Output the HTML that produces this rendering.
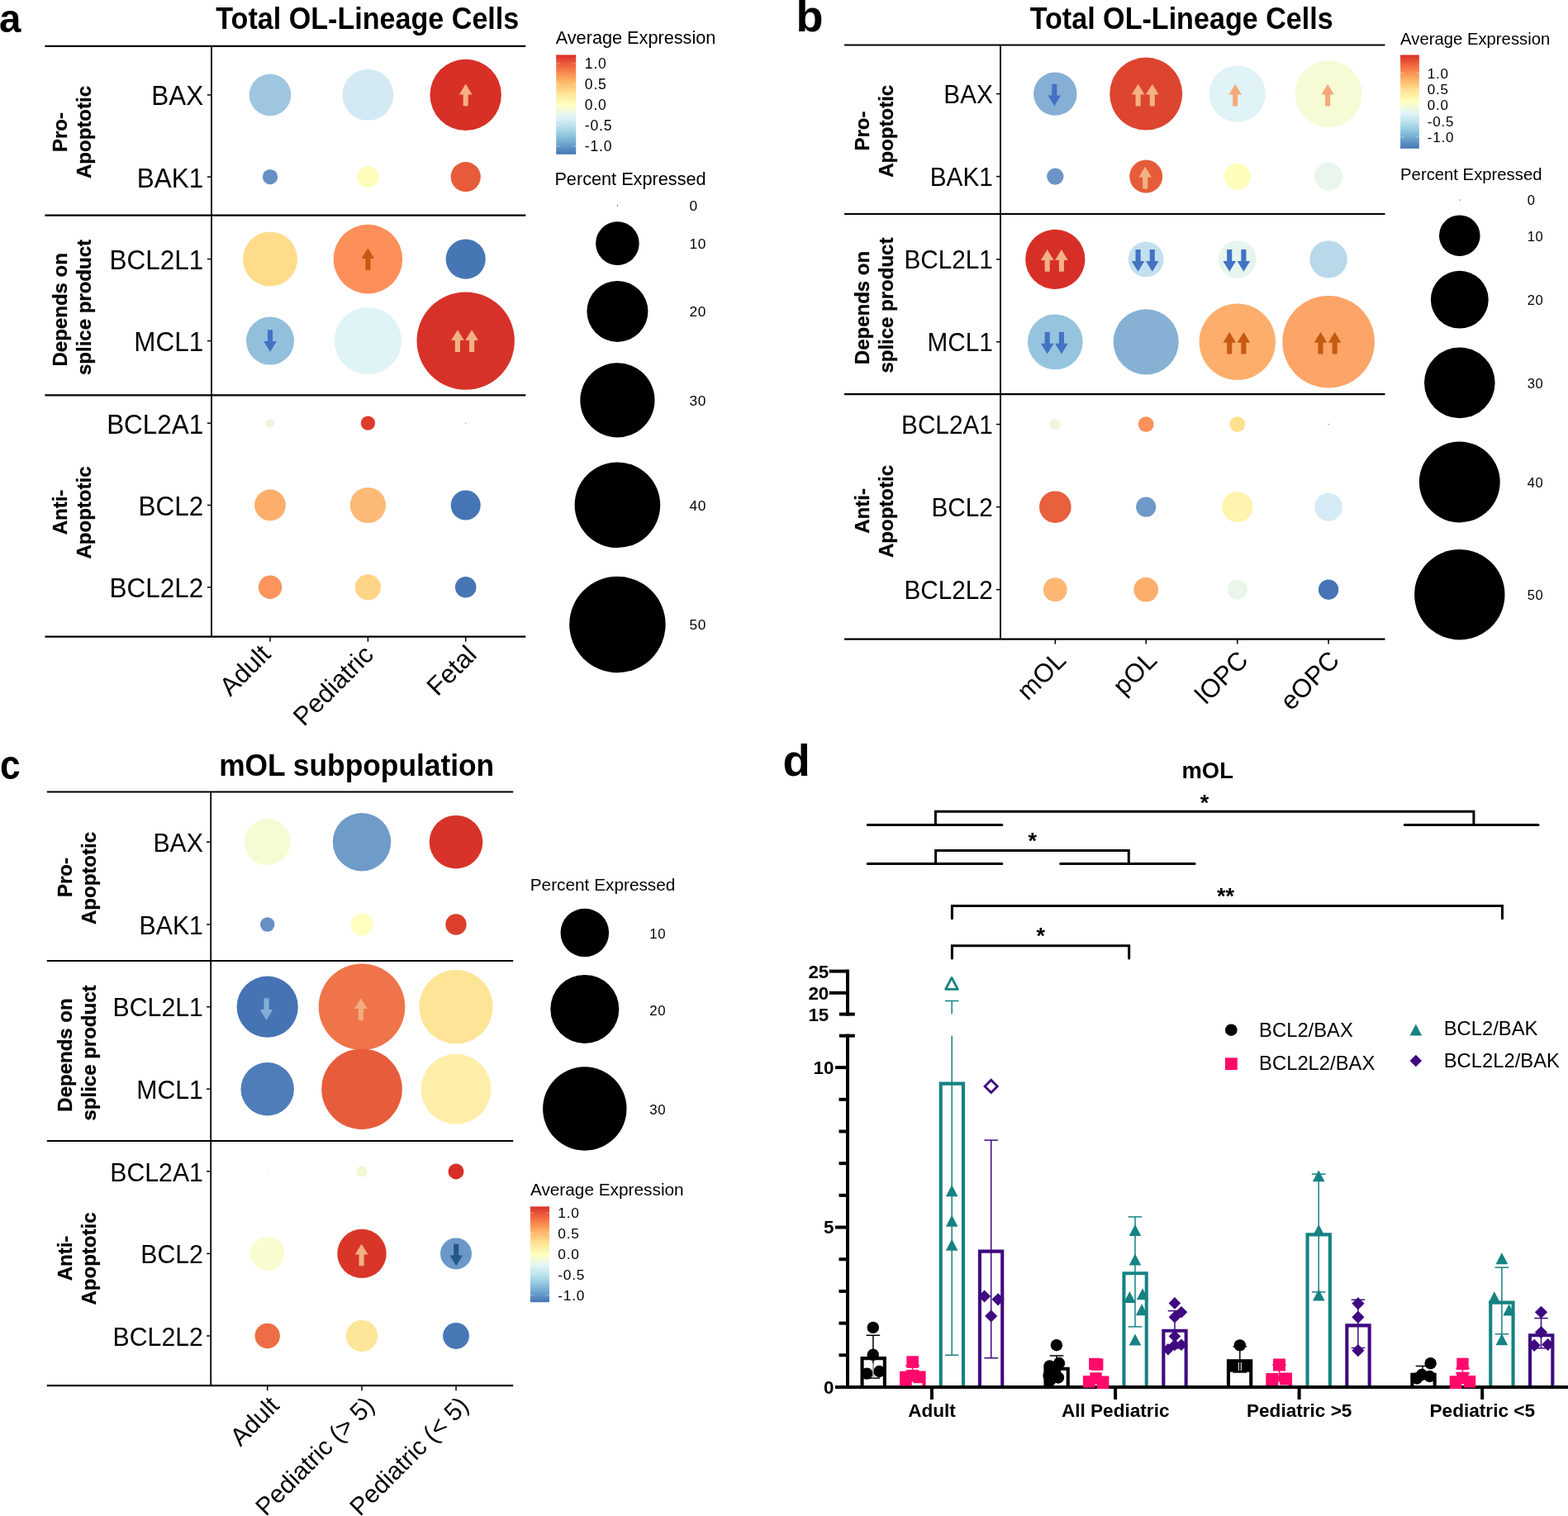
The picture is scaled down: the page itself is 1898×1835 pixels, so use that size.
<!DOCTYPE html>
<html lang="en">
<head>
<meta charset="utf-8">
<title>Figure: BCL2 family expression in OL-lineage cells</title>
<style>
html,body{margin:0;padding:0;background:#fff;}
body{width:1898px;height:1835px;overflow:hidden;}
svg{display:block;}
text{white-space:pre;}
</style>
</head>
<body>
<svg xmlns="http://www.w3.org/2000/svg" width="1898" height="1835" viewBox="0 0 1898 1835" font-family='"Liberation Sans", Arial, Helvetica, sans-serif'>
<rect width="1898" height="1835" fill="#fff"/>
<g id="panel-a">
<text x="-1" y="39" font-size="47.5" font-weight="bold" text-anchor="start" fill="#000">a</text>
<text x="261.3" y="34.7" font-size="36" font-weight="bold" text-anchor="start" fill="#000" textLength="367" lengthAdjust="spacingAndGlyphs">Total OL-Lineage Cells</text>
<line x1="54.4" y1="55.85" x2="636.3" y2="55.85" stroke="#000" stroke-width="2.2" stroke-linecap="butt"/>
<line x1="54.4" y1="260.6" x2="636.3" y2="260.6" stroke="#000" stroke-width="2.2" stroke-linecap="butt"/>
<line x1="54.4" y1="478.4" x2="636.3" y2="478.4" stroke="#000" stroke-width="2.2" stroke-linecap="butt"/>
<line x1="54.4" y1="770.7" x2="636.3" y2="770.7" stroke="#000" stroke-width="2.2" stroke-linecap="butt"/>
<line x1="256" y1="55.85" x2="256" y2="770.7" stroke="#000" stroke-width="1.8" stroke-linecap="butt"/>
<line x1="250.9" y1="114.9" x2="256" y2="114.9" stroke="#000" stroke-width="1.5" stroke-linecap="butt"/>
<text transform="translate(246.2 127.41) scale(0.95 1)" font-size="33.1" text-anchor="end">BAX</text>
<line x1="250.9" y1="214.1" x2="256" y2="214.1" stroke="#000" stroke-width="1.5" stroke-linecap="butt"/>
<text transform="translate(246.2 226.61) scale(0.95 1)" font-size="33.1" text-anchor="end">BAK1</text>
<line x1="250.9" y1="313.6" x2="256" y2="313.6" stroke="#000" stroke-width="1.5" stroke-linecap="butt"/>
<text transform="translate(246.2 326.11) scale(0.95 1)" font-size="33.1" text-anchor="end">BCL2L1</text>
<line x1="250.9" y1="412.6" x2="256" y2="412.6" stroke="#000" stroke-width="1.5" stroke-linecap="butt"/>
<text transform="translate(246.2 425.11) scale(0.95 1)" font-size="33.1" text-anchor="end">MCL1</text>
<line x1="250.9" y1="512.2" x2="256" y2="512.2" stroke="#000" stroke-width="1.5" stroke-linecap="butt"/>
<text transform="translate(246.2 524.71) scale(0.95 1)" font-size="33.1" text-anchor="end">BCL2A1</text>
<line x1="250.9" y1="611.5" x2="256" y2="611.5" stroke="#000" stroke-width="1.5" stroke-linecap="butt"/>
<text transform="translate(246.2 624.01) scale(0.95 1)" font-size="33.1" text-anchor="end">BCL2</text>
<line x1="250.9" y1="710.8" x2="256" y2="710.8" stroke="#000" stroke-width="1.5" stroke-linecap="butt"/>
<text transform="translate(246.2 723.31) scale(0.95 1)" font-size="33.1" text-anchor="end">BCL2L2</text>
<line x1="327" y1="770.7" x2="327" y2="776.7" stroke="#000" stroke-width="1.5" stroke-linecap="butt"/>
<line x1="445.4" y1="770.7" x2="445.4" y2="776.7" stroke="#000" stroke-width="1.5" stroke-linecap="butt"/>
<line x1="563.7" y1="770.7" x2="563.7" y2="776.7" stroke="#000" stroke-width="1.5" stroke-linecap="butt"/>
<text transform="translate(313.3 777.7) rotate(-45)" font-size="31.3" font-weight="normal" text-anchor="end" dy="22.54">Adult</text>
<text transform="translate(437.8 778.2) rotate(-45)" font-size="31.3" font-weight="normal" text-anchor="end" dy="22.54">Pediatric</text>
<text transform="translate(562.7 778.5) rotate(-45)" font-size="31.3" font-weight="normal" text-anchor="end" dy="22.54">Fetal</text>
<text transform="translate(80.9 160) rotate(-90)" font-size="24" font-weight="bold" text-anchor="middle" stroke="#000" stroke-width="0.3">Pro-</text>
<text transform="translate(109.8 160) rotate(-90)" font-size="24" font-weight="bold" text-anchor="middle" stroke="#000" stroke-width="0.3">Apoptotic</text>
<text transform="translate(81 374.8) rotate(-90)" font-size="24" font-weight="bold" text-anchor="middle" stroke="#000" stroke-width="0.3">Depends on</text>
<text transform="translate(109.8 372) rotate(-90)" font-size="24" font-weight="bold" text-anchor="middle" stroke="#000" stroke-width="0.3">splice product</text>
<text transform="translate(81.3 620) rotate(-90)" font-size="24" font-weight="bold" text-anchor="middle" stroke="#000" stroke-width="0.3">Anti-</text>
<text transform="translate(109.8 620.5) rotate(-90)" font-size="24" font-weight="bold" text-anchor="middle" stroke="#000" stroke-width="0.3">Apoptotic</text>
<circle cx="327" cy="114.9" r="25.3" fill="#9fc6e0"/>
<circle cx="445.4" cy="114.9" r="30.9" fill="#d3e9f3"/>
<circle cx="563.7" cy="114.9" r="43.2" fill="#d73027"/>
<circle cx="327" cy="214.1" r="9.2" fill="#6690c4"/>
<circle cx="445.4" cy="214.1" r="13.1" fill="#fffdbb"/>
<circle cx="563.7" cy="214.1" r="18.1" fill="#e65c3a"/>
<circle cx="327" cy="313.6" r="33" fill="#fedc8c"/>
<circle cx="445.4" cy="313.6" r="41.8" fill="#fd8f5b"/>
<circle cx="563.7" cy="313.6" r="24.1" fill="#4776b4"/>
<circle cx="327" cy="412.6" r="29" fill="#92bfdc"/>
<circle cx="445.4" cy="412.6" r="40.6" fill="#e0f3f6"/>
<circle cx="563.7" cy="412.6" r="59.2" fill="#d73229"/>
<circle cx="327" cy="512.2" r="5" fill="#e9f5dc"/>
<circle cx="445.4" cy="512.2" r="8.6" fill="#dc3c2c"/>
<circle cx="563.7" cy="512.2" r="0.7" fill="#74add1"/>
<circle cx="327" cy="611.5" r="18.9" fill="#fdae6b"/>
<circle cx="445.4" cy="611.5" r="21.6" fill="#fdb976"/>
<circle cx="563.7" cy="611.5" r="18" fill="#4575b4"/>
<circle cx="327" cy="710.8" r="14.2" fill="#fd945c"/>
<circle cx="445.4" cy="710.8" r="15.6" fill="#fed586"/>
<circle cx="563.7" cy="710.8" r="12.8" fill="#4776b4"/>
<path d="M563.7 101.6 L571.5 114.4 L566.75 114.4 L566.75 128.2 L560.65 128.2 L560.65 114.4 L555.9 114.4Z" fill="#f4b183"/>
<path d="M445.4 300.3 L453.2 313.1 L448.45 313.1 L448.45 326.9 L442.35 326.9 L442.35 313.1 L437.6 313.1Z" fill="#c55a11"/>
<path d="M327 425.9 L334.8 413.1 L330.05 413.1 L330.05 399.3 L323.95 399.3 L323.95 413.1 L319.2 413.1Z" fill="#4472c4"/>
<path d="M553.9 399.3 L561.7 412.1 L556.95 412.1 L556.95 425.9 L550.85 425.9 L550.85 412.1 L546.1 412.1Z" fill="#f4b183"/>
<path d="M571.1 399.3 L578.9 412.1 L574.15 412.1 L574.15 425.9 L568.05 425.9 L568.05 412.1 L563.3 412.1Z" fill="#f4b183"/>
<text x="672.7" y="53.4" font-size="21.7" font-weight="normal" text-anchor="start" fill="#000">Average Expression</text>
<defs><linearGradient id="ga" x1="0" y1="0" x2="0" y2="1"><stop offset="0" stop-color="#d73027"/><stop offset="0.125" stop-color="#f46d43"/><stop offset="0.25" stop-color="#fdae61"/><stop offset="0.375" stop-color="#fee090"/><stop offset="0.5" stop-color="#ffffbf"/><stop offset="0.625" stop-color="#e0f3f8"/><stop offset="0.75" stop-color="#abd9e9"/><stop offset="0.875" stop-color="#74add1"/><stop offset="1" stop-color="#4575b4"/></linearGradient></defs>
<rect x="673.2" y="66.4" width="24" height="120.4" fill="url(#ga)"/>
<path d="M673.2 77h4.8M692.4 77h4.8" stroke="#fff" stroke-opacity="0.55" stroke-width="0.7"/>
<path d="M673.2 102h4.8M692.4 102h4.8" stroke="#fff" stroke-opacity="0.55" stroke-width="0.7"/>
<path d="M673.2 126.9h4.8M692.4 126.9h4.8" stroke="#fff" stroke-opacity="0.55" stroke-width="0.7"/>
<path d="M673.2 151.7h4.8M692.4 151.7h4.8" stroke="#fff" stroke-opacity="0.55" stroke-width="0.7"/>
<path d="M673.2 176.8h4.8M692.4 176.8h4.8" stroke="#fff" stroke-opacity="0.55" stroke-width="0.7"/>
<text x="707.8" y="83.3" font-size="17.5" font-weight="normal" text-anchor="start" fill="#000" letter-spacing="0.85">1.0</text>
<text x="707.8" y="108.3" font-size="17.5" font-weight="normal" text-anchor="start" fill="#000" letter-spacing="0.85">0.5</text>
<text x="707.8" y="133.2" font-size="17.5" font-weight="normal" text-anchor="start" fill="#000" letter-spacing="0.85">0.0</text>
<text x="707.8" y="158" font-size="17.5" font-weight="normal" text-anchor="start" fill="#000" letter-spacing="0.85">-0.5</text>
<text x="707.8" y="183.1" font-size="17.5" font-weight="normal" text-anchor="start" fill="#000" letter-spacing="0.85">-1.0</text>
<text x="671.4" y="223.7" font-size="21.7" font-weight="normal" text-anchor="start" fill="#000">Percent Expressed</text>
<circle cx="747.4" cy="248.7" r="0.6" fill="#000"/>
<text x="834.6" y="255.1" font-size="17.3" font-weight="normal" text-anchor="start" fill="#000" letter-spacing="0.6">0</text>
<circle cx="747.4" cy="294.6" r="26.3" fill="#000"/>
<text x="834.6" y="301" font-size="17.3" font-weight="normal" text-anchor="start" fill="#000" letter-spacing="0.6">10</text>
<circle cx="747.4" cy="376.9" r="37" fill="#000"/>
<text x="834.6" y="383.3" font-size="17.3" font-weight="normal" text-anchor="start" fill="#000" letter-spacing="0.6">20</text>
<circle cx="747.4" cy="484.4" r="45.1" fill="#000"/>
<text x="834.6" y="490.8" font-size="17.3" font-weight="normal" text-anchor="start" fill="#000" letter-spacing="0.6">30</text>
<circle cx="747.4" cy="611.3" r="51.8" fill="#000"/>
<text x="834.6" y="617.7" font-size="17.3" font-weight="normal" text-anchor="start" fill="#000" letter-spacing="0.6">40</text>
<circle cx="747.4" cy="756" r="58.2" fill="#000"/>
<text x="834.6" y="762.4" font-size="17.3" font-weight="normal" text-anchor="start" fill="#000" letter-spacing="0.6">50</text>
</g>
<g id="panel-b">
<text x="963.5" y="38" font-size="54" font-weight="bold" text-anchor="start" fill="#000">b</text>
<text x="1246.7" y="34.7" font-size="36" font-weight="bold" text-anchor="start" fill="#000" textLength="367" lengthAdjust="spacingAndGlyphs">Total OL-Lineage Cells</text>
<line x1="1022" y1="54.5" x2="1676.5" y2="54.5" stroke="#000" stroke-width="2.2" stroke-linecap="butt"/>
<line x1="1022" y1="259" x2="1676.5" y2="259" stroke="#000" stroke-width="2.2" stroke-linecap="butt"/>
<line x1="1022" y1="477.1" x2="1676.5" y2="477.1" stroke="#000" stroke-width="2.2" stroke-linecap="butt"/>
<line x1="1022" y1="773.6" x2="1676.5" y2="773.6" stroke="#000" stroke-width="2.2" stroke-linecap="butt"/>
<line x1="1211" y1="54.5" x2="1211" y2="773.6" stroke="#000" stroke-width="1.8" stroke-linecap="butt"/>
<line x1="1205.9" y1="113.6" x2="1211" y2="113.6" stroke="#000" stroke-width="1.5" stroke-linecap="butt"/>
<text transform="translate(1201.8 124.68) scale(0.95 1)" font-size="31.3" text-anchor="end">BAX</text>
<line x1="1205.9" y1="213.6" x2="1211" y2="213.6" stroke="#000" stroke-width="1.5" stroke-linecap="butt"/>
<text transform="translate(1201.8 224.68) scale(0.95 1)" font-size="31.3" text-anchor="end">BAK1</text>
<line x1="1205.9" y1="313.9" x2="1211" y2="313.9" stroke="#000" stroke-width="1.5" stroke-linecap="butt"/>
<text transform="translate(1201.8 324.98) scale(0.95 1)" font-size="31.3" text-anchor="end">BCL2L1</text>
<line x1="1205.9" y1="413.8" x2="1211" y2="413.8" stroke="#000" stroke-width="1.5" stroke-linecap="butt"/>
<text transform="translate(1201.8 424.88) scale(0.95 1)" font-size="31.3" text-anchor="end">MCL1</text>
<line x1="1205.9" y1="513.6" x2="1211" y2="513.6" stroke="#000" stroke-width="1.5" stroke-linecap="butt"/>
<text transform="translate(1201.8 524.68) scale(0.95 1)" font-size="31.3" text-anchor="end">BCL2A1</text>
<line x1="1205.9" y1="613.7" x2="1211" y2="613.7" stroke="#000" stroke-width="1.5" stroke-linecap="butt"/>
<text transform="translate(1201.8 624.78) scale(0.95 1)" font-size="31.3" text-anchor="end">BCL2</text>
<line x1="1205.9" y1="713.7" x2="1211" y2="713.7" stroke="#000" stroke-width="1.5" stroke-linecap="butt"/>
<text transform="translate(1201.8 724.78) scale(0.95 1)" font-size="31.3" text-anchor="end">BCL2L2</text>
<line x1="1277.3" y1="773.6" x2="1277.3" y2="779.6" stroke="#000" stroke-width="1.5" stroke-linecap="butt"/>
<line x1="1387.2" y1="773.6" x2="1387.2" y2="779.6" stroke="#000" stroke-width="1.5" stroke-linecap="butt"/>
<line x1="1497.8" y1="773.6" x2="1497.8" y2="779.6" stroke="#000" stroke-width="1.5" stroke-linecap="butt"/>
<line x1="1608.1" y1="773.6" x2="1608.1" y2="779.6" stroke="#000" stroke-width="1.5" stroke-linecap="butt"/>
<text transform="translate(1276 785) rotate(-45)" font-size="31.3" font-weight="normal" text-anchor="end" dy="22.54">mOL</text>
<text transform="translate(1386 785) rotate(-45)" font-size="31.3" font-weight="normal" text-anchor="end" dy="22.54">pOL</text>
<text transform="translate(1496.5 785) rotate(-45)" font-size="31.3" font-weight="normal" text-anchor="end" dy="22.54">lOPC</text>
<text transform="translate(1607 785) rotate(-45)" font-size="31.3" font-weight="normal" text-anchor="end" dy="22.54">eOPC</text>
<text transform="translate(1051.5 158.5) rotate(-90)" font-size="24" font-weight="bold" text-anchor="middle" stroke="#000" stroke-width="0.3">Pro-</text>
<text transform="translate(1080.9 158.8) rotate(-90)" font-size="24" font-weight="bold" text-anchor="middle" stroke="#000" stroke-width="0.3">Apoptotic</text>
<text transform="translate(1051.8 372.5) rotate(-90)" font-size="24" font-weight="bold" text-anchor="middle" stroke="#000" stroke-width="0.3">Depends on</text>
<text transform="translate(1081.3 369.6) rotate(-90)" font-size="24" font-weight="bold" text-anchor="middle" stroke="#000" stroke-width="0.3">splice product</text>
<text transform="translate(1052.2 618.4) rotate(-90)" font-size="24" font-weight="bold" text-anchor="middle" stroke="#000" stroke-width="0.3">Anti-</text>
<text transform="translate(1080.6 619) rotate(-90)" font-size="24" font-weight="bold" text-anchor="middle" stroke="#000" stroke-width="0.3">Apoptotic</text>
<circle cx="1277.3" cy="113.6" r="26.2" fill="#85afd4"/>
<circle cx="1387.2" cy="113.6" r="44" fill="#dd4530"/>
<circle cx="1497.8" cy="113.6" r="34.1" fill="#e0f3f6"/>
<circle cx="1608.1" cy="113.6" r="40.5" fill="#f6fbd6"/>
<circle cx="1277.3" cy="213.6" r="10.2" fill="#6b93c5"/>
<circle cx="1387.2" cy="213.6" r="20" fill="#e65c3a"/>
<circle cx="1497.8" cy="213.6" r="16" fill="#fffdbb"/>
<circle cx="1608.1" cy="213.6" r="16.9" fill="#eaf6ec"/>
<circle cx="1277.3" cy="313.9" r="36.1" fill="#d62f27"/>
<circle cx="1387.2" cy="313.9" r="21.4" fill="#c2e0ee"/>
<circle cx="1497.8" cy="313.9" r="22.8" fill="#e6f5ee"/>
<circle cx="1608.1" cy="313.9" r="22.7" fill="#b9d8ea"/>
<circle cx="1277.3" cy="413.8" r="33.4" fill="#96c3de"/>
<circle cx="1387.2" cy="413.8" r="39.6" fill="#86b1d5"/>
<circle cx="1497.8" cy="413.8" r="46.2" fill="#fdae6d"/>
<circle cx="1608.1" cy="413.8" r="55.8" fill="#fda468"/>
<circle cx="1277.3" cy="513.6" r="6.5" fill="#eef7dc"/>
<circle cx="1387.2" cy="513.6" r="9.4" fill="#fc9159"/>
<circle cx="1497.8" cy="513.6" r="9.4" fill="#fee08d"/>
<circle cx="1608.1" cy="513.6" r="0.7" fill="#4575b4"/>
<circle cx="1277.3" cy="613.7" r="19.3" fill="#e8603c"/>
<circle cx="1387.2" cy="613.7" r="12.1" fill="#6e99c8"/>
<circle cx="1497.8" cy="613.7" r="18.5" fill="#fff3ad"/>
<circle cx="1608.1" cy="613.7" r="17" fill="#d6ebf5"/>
<circle cx="1277.3" cy="713.7" r="14.4" fill="#fdb772"/>
<circle cx="1387.2" cy="713.7" r="14.8" fill="#fdad6c"/>
<circle cx="1497.8" cy="713.7" r="12.2" fill="#eaf6ea"/>
<circle cx="1608.1" cy="713.7" r="12.2" fill="#4674b4"/>
<path d="M1276.3 128.4 L1284.1 115.6 L1279.35 115.6 L1279.35 101.8 L1273.25 101.8 L1273.25 115.6 L1268.5 115.6Z" fill="#4472c4"/>
<path d="M1377.6 101.8 L1385.4 114.6 L1380.65 114.6 L1380.65 128.4 L1374.55 128.4 L1374.55 114.6 L1369.8 114.6Z" fill="#f4b183"/>
<path d="M1394.8 101.8 L1402.6 114.6 L1397.85 114.6 L1397.85 128.4 L1391.75 128.4 L1391.75 114.6 L1387 114.6Z" fill="#f4b183"/>
<path d="M1495.2 101.8 L1503 114.6 L1498.25 114.6 L1498.25 128.4 L1492.15 128.4 L1492.15 114.6 L1487.4 114.6Z" fill="#f4a97a"/>
<path d="M1607.1 101.8 L1614.9 114.6 L1610.15 114.6 L1610.15 128.4 L1604.05 128.4 L1604.05 114.6 L1599.3 114.6Z" fill="#f4a97a"/>
<path d="M1386.2 201.8 L1394 214.6 L1389.25 214.6 L1389.25 228.4 L1383.15 228.4 L1383.15 214.6 L1378.4 214.6Z" fill="#f4b183"/>
<path d="M1267.7 302.1 L1275.5 314.9 L1270.75 314.9 L1270.75 328.7 L1264.65 328.7 L1264.65 314.9 L1259.9 314.9Z" fill="#f4b183"/>
<path d="M1284.9 302.1 L1292.7 314.9 L1287.95 314.9 L1287.95 328.7 L1281.85 328.7 L1281.85 314.9 L1277.1 314.9Z" fill="#f4b183"/>
<path d="M1377.6 328.7 L1385.4 315.9 L1380.65 315.9 L1380.65 302.1 L1374.55 302.1 L1374.55 315.9 L1369.8 315.9Z" fill="#4472c4"/>
<path d="M1394.8 328.7 L1402.6 315.9 L1397.85 315.9 L1397.85 302.1 L1391.75 302.1 L1391.75 315.9 L1387 315.9Z" fill="#4472c4"/>
<path d="M1488.2 328.7 L1496 315.9 L1491.25 315.9 L1491.25 302.1 L1485.15 302.1 L1485.15 315.9 L1480.4 315.9Z" fill="#4472c4"/>
<path d="M1505.4 328.7 L1513.2 315.9 L1508.45 315.9 L1508.45 302.1 L1502.35 302.1 L1502.35 315.9 L1497.6 315.9Z" fill="#4472c4"/>
<path d="M1267.7 428.6 L1275.5 415.8 L1270.75 415.8 L1270.75 402 L1264.65 402 L1264.65 415.8 L1259.9 415.8Z" fill="#4472c4"/>
<path d="M1284.9 428.6 L1292.7 415.8 L1287.95 415.8 L1287.95 402 L1281.85 402 L1281.85 415.8 L1277.1 415.8Z" fill="#4472c4"/>
<path d="M1488.2 402 L1496 414.8 L1491.25 414.8 L1491.25 428.6 L1485.15 428.6 L1485.15 414.8 L1480.4 414.8Z" fill="#c55a11"/>
<path d="M1505.4 402 L1513.2 414.8 L1508.45 414.8 L1508.45 428.6 L1502.35 428.6 L1502.35 414.8 L1497.6 414.8Z" fill="#c55a11"/>
<path d="M1598.5 402 L1606.3 414.8 L1601.55 414.8 L1601.55 428.6 L1595.45 428.6 L1595.45 414.8 L1590.7 414.8Z" fill="#c55a11"/>
<path d="M1615.7 402 L1623.5 414.8 L1618.75 414.8 L1618.75 428.6 L1612.65 428.6 L1612.65 414.8 L1607.9 414.8Z" fill="#c55a11"/>
<text x="1695.1" y="53.9" font-size="20.3" font-weight="normal" text-anchor="start" fill="#000">Average Expression</text>
<defs><linearGradient id="gb" x1="0" y1="0" x2="0" y2="1"><stop offset="0" stop-color="#d73027"/><stop offset="0.125" stop-color="#f46d43"/><stop offset="0.25" stop-color="#fdae61"/><stop offset="0.375" stop-color="#fee090"/><stop offset="0.5" stop-color="#ffffbf"/><stop offset="0.625" stop-color="#e0f3f8"/><stop offset="0.75" stop-color="#abd9e9"/><stop offset="0.875" stop-color="#74add1"/><stop offset="1" stop-color="#4575b4"/></linearGradient></defs>
<rect x="1695.1" y="66.5" width="22.8" height="113.3" fill="url(#gb)"/>
<path d="M1695.1 88.5h4.56M1713.34 88.5h4.56" stroke="#fff" stroke-opacity="0.55" stroke-width="0.7"/>
<path d="M1695.1 107.9h4.56M1713.34 107.9h4.56" stroke="#fff" stroke-opacity="0.55" stroke-width="0.7"/>
<path d="M1695.1 127.2h4.56M1713.34 127.2h4.56" stroke="#fff" stroke-opacity="0.55" stroke-width="0.7"/>
<path d="M1695.1 146.4h4.56M1713.34 146.4h4.56" stroke="#fff" stroke-opacity="0.55" stroke-width="0.7"/>
<path d="M1695.1 165.8h4.56M1713.34 165.8h4.56" stroke="#fff" stroke-opacity="0.55" stroke-width="0.7"/>
<text x="1727.7" y="94.6" font-size="17" font-weight="normal" text-anchor="start" fill="#000" letter-spacing="0.8">1.0</text>
<text x="1727.7" y="114" font-size="17" font-weight="normal" text-anchor="start" fill="#000" letter-spacing="0.8">0.5</text>
<text x="1727.7" y="133.3" font-size="17" font-weight="normal" text-anchor="start" fill="#000" letter-spacing="0.8">0.0</text>
<text x="1727.7" y="152.5" font-size="17" font-weight="normal" text-anchor="start" fill="#000" letter-spacing="0.8">-0.5</text>
<text x="1727.7" y="171.9" font-size="17" font-weight="normal" text-anchor="start" fill="#000" letter-spacing="0.8">-1.0</text>
<text x="1695.1" y="218.2" font-size="20.3" font-weight="normal" text-anchor="start" fill="#000">Percent Expressed</text>
<circle cx="1766.8" cy="242" r="0.6" fill="#000"/>
<text x="1848.8" y="248.3" font-size="16.5" font-weight="normal" text-anchor="start" fill="#000" letter-spacing="0.6">0</text>
<circle cx="1766.8" cy="285.2" r="24.8" fill="#000"/>
<text x="1848.8" y="291.5" font-size="16.5" font-weight="normal" text-anchor="start" fill="#000" letter-spacing="0.6">10</text>
<circle cx="1766.8" cy="362.7" r="34.9" fill="#000"/>
<text x="1848.8" y="369" font-size="16.5" font-weight="normal" text-anchor="start" fill="#000" letter-spacing="0.6">20</text>
<circle cx="1766.8" cy="463.4" r="42.8" fill="#000"/>
<text x="1848.8" y="469.7" font-size="16.5" font-weight="normal" text-anchor="start" fill="#000" letter-spacing="0.6">30</text>
<circle cx="1766.8" cy="583.5" r="48.9" fill="#000"/>
<text x="1848.8" y="589.8" font-size="16.5" font-weight="normal" text-anchor="start" fill="#000" letter-spacing="0.6">40</text>
<circle cx="1766.8" cy="719.7" r="54.7" fill="#000"/>
<text x="1848.8" y="726" font-size="16.5" font-weight="normal" text-anchor="start" fill="#000" letter-spacing="0.6">50</text>
</g>
<g id="panel-c">
<text x="0" y="943" font-size="50" font-weight="bold" text-anchor="start" fill="#000" textLength="24.6" lengthAdjust="spacingAndGlyphs">c</text>
<text x="265.2" y="939.4" font-size="36" font-weight="bold" text-anchor="start" fill="#000" textLength="333" lengthAdjust="spacingAndGlyphs">mOL subpopulation</text>
<line x1="56.8" y1="958.5" x2="621.2" y2="958.5" stroke="#000" stroke-width="2.2" stroke-linecap="butt"/>
<line x1="56.8" y1="1163" x2="621.2" y2="1163" stroke="#000" stroke-width="2.2" stroke-linecap="butt"/>
<line x1="56.8" y1="1381" x2="621.2" y2="1381" stroke="#000" stroke-width="2.2" stroke-linecap="butt"/>
<line x1="56.8" y1="1677.2" x2="621.2" y2="1677.2" stroke="#000" stroke-width="2.2" stroke-linecap="butt"/>
<line x1="255.2" y1="958.5" x2="255.2" y2="1677.2" stroke="#000" stroke-width="1.8" stroke-linecap="butt"/>
<line x1="250.1" y1="1019.2" x2="255.2" y2="1019.2" stroke="#000" stroke-width="1.5" stroke-linecap="butt"/>
<text transform="translate(245.9 1030.94) scale(0.95 1)" font-size="31.85" text-anchor="end">BAX</text>
<line x1="250.1" y1="1119" x2="255.2" y2="1119" stroke="#000" stroke-width="1.5" stroke-linecap="butt"/>
<text transform="translate(245.9 1130.74) scale(0.95 1)" font-size="31.85" text-anchor="end">BAK1</text>
<line x1="250.1" y1="1218.7" x2="255.2" y2="1218.7" stroke="#000" stroke-width="1.5" stroke-linecap="butt"/>
<text transform="translate(245.9 1230.44) scale(0.95 1)" font-size="31.85" text-anchor="end">BCL2L1</text>
<line x1="250.1" y1="1318.2" x2="255.2" y2="1318.2" stroke="#000" stroke-width="1.5" stroke-linecap="butt"/>
<text transform="translate(245.9 1329.94) scale(0.95 1)" font-size="31.85" text-anchor="end">MCL1</text>
<line x1="250.1" y1="1417.9" x2="255.2" y2="1417.9" stroke="#000" stroke-width="1.5" stroke-linecap="butt"/>
<text transform="translate(245.9 1429.64) scale(0.95 1)" font-size="31.85" text-anchor="end">BCL2A1</text>
<line x1="250.1" y1="1517.4" x2="255.2" y2="1517.4" stroke="#000" stroke-width="1.5" stroke-linecap="butt"/>
<text transform="translate(245.9 1529.14) scale(0.95 1)" font-size="31.85" text-anchor="end">BCL2</text>
<line x1="250.1" y1="1617" x2="255.2" y2="1617" stroke="#000" stroke-width="1.5" stroke-linecap="butt"/>
<text transform="translate(245.9 1628.74) scale(0.95 1)" font-size="31.85" text-anchor="end">BCL2L2</text>
<line x1="323.7" y1="1677.2" x2="323.7" y2="1683.2" stroke="#000" stroke-width="1.5" stroke-linecap="butt"/>
<line x1="438" y1="1677.2" x2="438" y2="1683.2" stroke="#000" stroke-width="1.5" stroke-linecap="butt"/>
<line x1="552" y1="1677.2" x2="552" y2="1683.2" stroke="#000" stroke-width="1.5" stroke-linecap="butt"/>
<text transform="translate(324.2 1687.8) rotate(-45)" font-size="30.1" font-weight="normal" text-anchor="end" dy="21.67">Adult</text>
<text transform="translate(439.6 1687.8) rotate(-45)" font-size="30.1" font-weight="normal" text-anchor="end" dy="21.67">Pediatric (&gt; 5)</text>
<text transform="translate(553.6 1687.8) rotate(-45)" font-size="30.1" font-weight="normal" text-anchor="end" dy="21.67">Pediatric (&lt; 5)</text>
<text transform="translate(86.5 1062) rotate(-90)" font-size="24" font-weight="bold" text-anchor="middle" stroke="#000" stroke-width="0.3">Pro-</text>
<text transform="translate(115.9 1063) rotate(-90)" font-size="24" font-weight="bold" text-anchor="middle" stroke="#000" stroke-width="0.3">Apoptotic</text>
<text transform="translate(86.5 1277) rotate(-90)" font-size="24" font-weight="bold" text-anchor="middle" stroke="#000" stroke-width="0.3">Depends on</text>
<text transform="translate(115.9 1274.5) rotate(-90)" font-size="24" font-weight="bold" text-anchor="middle" stroke="#000" stroke-width="0.3">splice product</text>
<text transform="translate(86.5 1523) rotate(-90)" font-size="24" font-weight="bold" text-anchor="middle" stroke="#000" stroke-width="0.3">Anti-</text>
<text transform="translate(115.9 1523.5) rotate(-90)" font-size="24" font-weight="bold" text-anchor="middle" stroke="#000" stroke-width="0.3">Apoptotic</text>
<circle cx="323.7" cy="1019.2" r="27.9" fill="#f6fbd4"/>
<circle cx="438" cy="1019.2" r="35.2" fill="#6f9bc9"/>
<circle cx="552" cy="1019.2" r="32.3" fill="#d7332a"/>
<circle cx="323.7" cy="1119" r="8.7" fill="#6690c4"/>
<circle cx="438" cy="1119" r="13.4" fill="#fffdbf"/>
<circle cx="552" cy="1119" r="12.7" fill="#dc402c"/>
<circle cx="323.7" cy="1218.7" r="37.1" fill="#4573b4"/>
<circle cx="438" cy="1218.7" r="52.3" fill="#f0744a"/>
<circle cx="552" cy="1218.7" r="44.6" fill="#fee496"/>
<circle cx="323.7" cy="1318.2" r="32.2" fill="#4f7db9"/>
<circle cx="438" cy="1318.2" r="48.8" fill="#e75d3b"/>
<circle cx="552" cy="1318.2" r="42.5" fill="#feeea8"/>
<circle cx="323.7" cy="1417.9" r="0.7" fill="#abd9e9"/>
<circle cx="438" cy="1417.9" r="6.5" fill="#f0f8d4"/>
<circle cx="552" cy="1417.9" r="9.5" fill="#d72f27"/>
<circle cx="323.7" cy="1517.4" r="20.7" fill="#f9fccf"/>
<circle cx="438" cy="1517.4" r="29.7" fill="#d93629"/>
<circle cx="552" cy="1517.4" r="19" fill="#6b98c8"/>
<circle cx="323.7" cy="1617" r="15.2" fill="#ee6d45"/>
<circle cx="438" cy="1617" r="19.1" fill="#fee698"/>
<circle cx="552" cy="1617" r="15.9" fill="#4877b6"/>
<path d="M322.5 1234.9 L330.3 1222.1 L325.55 1222.1 L325.55 1208.3 L319.45 1208.3 L319.45 1222.1 L314.7 1222.1Z" fill="#84aed7"/>
<path d="M436.9 1208.3 L444.7 1221.1 L439.95 1221.1 L439.95 1234.9 L433.85 1234.9 L433.85 1221.1 L429.1 1221.1Z" fill="#f4ac7e"/>
<path d="M437.6 1505.7 L445.4 1518.5 L440.65 1518.5 L440.65 1532.3 L434.55 1532.3 L434.55 1518.5 L429.8 1518.5Z" fill="#f4b183"/>
<path d="M552.2 1532.3 L560 1519.5 L555.25 1519.5 L555.25 1505.7 L549.15 1505.7 L549.15 1519.5 L544.4 1519.5Z" fill="#255788"/>
<text x="641.7" y="1078" font-size="20.8" font-weight="normal" text-anchor="start" fill="#000">Percent Expressed</text>
<circle cx="707.8" cy="1129" r="29.3" fill="#000"/>
<text x="786.3" y="1136.3" font-size="16.8" font-weight="normal" text-anchor="start" fill="#000" letter-spacing="0.6">10</text>
<circle cx="707.8" cy="1221.4" r="41.5" fill="#000"/>
<text x="786.3" y="1228.7" font-size="16.8" font-weight="normal" text-anchor="start" fill="#000" letter-spacing="0.6">20</text>
<circle cx="707.8" cy="1342" r="50.7" fill="#000"/>
<text x="786.3" y="1349.3" font-size="16.8" font-weight="normal" text-anchor="start" fill="#000" letter-spacing="0.6">30</text>
<text x="641.9" y="1447.2" font-size="20.8" font-weight="normal" text-anchor="start" fill="#000">Average Expression</text>
<defs><linearGradient id="gc" x1="0" y1="0" x2="0" y2="1"><stop offset="0" stop-color="#d73027"/><stop offset="0.125" stop-color="#f46d43"/><stop offset="0.25" stop-color="#fdae61"/><stop offset="0.375" stop-color="#fee090"/><stop offset="0.5" stop-color="#ffffbf"/><stop offset="0.625" stop-color="#e0f3f8"/><stop offset="0.75" stop-color="#abd9e9"/><stop offset="0.875" stop-color="#74add1"/><stop offset="1" stop-color="#4575b4"/></linearGradient></defs>
<rect x="641.9" y="1460.4" width="23.1" height="115.8" fill="url(#gc)"/>
<path d="M641.9 1468h4.62M660.38 1468h4.62" stroke="#fff" stroke-opacity="0.55" stroke-width="0.7"/>
<path d="M641.9 1492.5h4.62M660.38 1492.5h4.62" stroke="#fff" stroke-opacity="0.55" stroke-width="0.7"/>
<path d="M641.9 1517.6h4.62M660.38 1517.6h4.62" stroke="#fff" stroke-opacity="0.55" stroke-width="0.7"/>
<path d="M641.9 1542.7h4.62M660.38 1542.7h4.62" stroke="#fff" stroke-opacity="0.55" stroke-width="0.7"/>
<path d="M641.9 1567.8h4.62M660.38 1567.8h4.62" stroke="#fff" stroke-opacity="0.55" stroke-width="0.7"/>
<text x="675.3" y="1474.2" font-size="17.3" font-weight="normal" text-anchor="start" fill="#000" letter-spacing="0.8">1.0</text>
<text x="675.3" y="1498.7" font-size="17.3" font-weight="normal" text-anchor="start" fill="#000" letter-spacing="0.8">0.5</text>
<text x="675.3" y="1523.8" font-size="17.3" font-weight="normal" text-anchor="start" fill="#000" letter-spacing="0.8">0.0</text>
<text x="675.3" y="1548.9" font-size="17.3" font-weight="normal" text-anchor="start" fill="#000" letter-spacing="0.8">-0.5</text>
<text x="675.3" y="1574" font-size="17.3" font-weight="normal" text-anchor="start" fill="#000" letter-spacing="0.8">-1.0</text>
</g>
<g id="panel-d">
<path d="M1043.55 1679 L1043.55 1644.1 L1070.85 1644.1 L1070.85 1679" fill="none" stroke="#000" stroke-width="4.1"/>
<path d="M1091.15 1679 L1091.15 1661.8 L1118.45 1661.8 L1118.45 1679" fill="none" stroke="#ff0a6c" stroke-width="4.1"/>
<path d="M1138.75 1679 L1138.75 1311.6 L1166.05 1311.6 L1166.05 1679" fill="none" stroke="#178282" stroke-width="4.1"/>
<path d="M1185.95 1679 L1185.95 1514.6 L1213.25 1514.6 L1213.25 1679" fill="none" stroke="#3f0a80" stroke-width="4.1"/>
<path d="M1265.45 1679 L1265.45 1656.8 L1292.75 1656.8 L1292.75 1679" fill="none" stroke="#000" stroke-width="4.1"/>
<path d="M1312.95 1679 L1312.95 1667.6 L1340.25 1667.6 L1340.25 1679" fill="none" stroke="#ff0a6c" stroke-width="4.1"/>
<path d="M1360.45 1679 L1360.45 1541.2 L1387.75 1541.2 L1387.75 1679" fill="none" stroke="#178282" stroke-width="4.1"/>
<path d="M1408.35 1679 L1408.35 1610.8 L1435.65 1610.8 L1435.65 1679" fill="none" stroke="#3f0a80" stroke-width="4.1"/>
<path d="M1486.95 1679 L1486.95 1647.2 L1514.25 1647.2 L1514.25 1679" fill="none" stroke="#000" stroke-width="4.1"/>
<path d="M1534.75 1679 L1534.75 1667.6 L1562.05 1667.6 L1562.05 1679" fill="none" stroke="#ff0a6c" stroke-width="4.1"/>
<path d="M1582.55 1679 L1582.55 1494.4 L1609.85 1494.4 L1609.85 1679" fill="none" stroke="#178282" stroke-width="4.1"/>
<path d="M1630.35 1679 L1630.35 1604.4 L1657.65 1604.4 L1657.65 1679" fill="none" stroke="#3f0a80" stroke-width="4.1"/>
<path d="M1709.35 1679 L1709.35 1663.7 L1736.65 1663.7 L1736.65 1679" fill="none" stroke="#000" stroke-width="4.1"/>
<path d="M1756.75 1679 L1756.75 1667.2 L1784.05 1667.2 L1784.05 1679" fill="none" stroke="#ff0a6c" stroke-width="4.1"/>
<path d="M1804.25 1679 L1804.25 1576.6 L1831.55 1576.6 L1831.55 1679" fill="none" stroke="#178282" stroke-width="4.1"/>
<path d="M1852.05 1679 L1852.05 1616.3 L1879.35 1616.3 L1879.35 1679" fill="none" stroke="#3f0a80" stroke-width="4.1"/>
<line x1="1026" y1="1173.6" x2="1026" y2="1229.6" stroke="#000" stroke-width="4" stroke-linecap="butt"/>
<line x1="1003.7" y1="1175.6" x2="1026" y2="1175.6" stroke="#000" stroke-width="4" stroke-linecap="butt"/>
<line x1="1003.7" y1="1201.8" x2="1026" y2="1201.8" stroke="#000" stroke-width="4" stroke-linecap="butt"/>
<line x1="1015.8" y1="1227.6" x2="1034.8" y2="1227.6" stroke="#000" stroke-width="4" stroke-linecap="butt"/>
<text x="1003.2" y="1184.2" font-size="22.3" font-weight="bold" text-anchor="end" fill="#000">25</text>
<text x="1003.2" y="1209.8" font-size="22.3" font-weight="bold" text-anchor="end" fill="#000">20</text>
<text x="1003.2" y="1235.9" font-size="22.3" font-weight="bold" text-anchor="end" fill="#000">15</text>
<line x1="1026" y1="1251.7" x2="1026" y2="1681" stroke="#000" stroke-width="4" stroke-linecap="butt"/>
<line x1="1015.8" y1="1253.7" x2="1034.8" y2="1253.7" stroke="#000" stroke-width="4" stroke-linecap="butt"/>
<line x1="1015.5" y1="1640.31" x2="1026" y2="1640.31" stroke="#000" stroke-width="4" stroke-linecap="butt"/>
<line x1="1015.5" y1="1601.62" x2="1026" y2="1601.62" stroke="#000" stroke-width="4" stroke-linecap="butt"/>
<line x1="1015.5" y1="1562.93" x2="1026" y2="1562.93" stroke="#000" stroke-width="4" stroke-linecap="butt"/>
<line x1="1015.5" y1="1524.24" x2="1026" y2="1524.24" stroke="#000" stroke-width="4" stroke-linecap="butt"/>
<line x1="1015.5" y1="1446.86" x2="1026" y2="1446.86" stroke="#000" stroke-width="4" stroke-linecap="butt"/>
<line x1="1015.5" y1="1408.17" x2="1026" y2="1408.17" stroke="#000" stroke-width="4" stroke-linecap="butt"/>
<line x1="1015.5" y1="1369.48" x2="1026" y2="1369.48" stroke="#000" stroke-width="4" stroke-linecap="butt"/>
<line x1="1015.5" y1="1330.79" x2="1026" y2="1330.79" stroke="#000" stroke-width="4" stroke-linecap="butt"/>
<line x1="1011" y1="1292.1" x2="1026" y2="1292.1" stroke="#000" stroke-width="4" stroke-linecap="butt"/>
<line x1="1011" y1="1485.55" x2="1026" y2="1485.55" stroke="#000" stroke-width="4" stroke-linecap="butt"/>
<text x="1009.4" y="1299.7" font-size="22.3" font-weight="bold" text-anchor="end" fill="#000">10</text>
<text x="1009.4" y="1493.15" font-size="22.3" font-weight="bold" text-anchor="end" fill="#000">5</text>
<text x="1009.4" y="1686.6" font-size="22.3" font-weight="bold" text-anchor="end" fill="#000">0</text>
<line x1="1011" y1="1679" x2="1898" y2="1679" stroke="#000" stroke-width="4" stroke-linecap="butt"/>
<line x1="1127.9" y1="1679" x2="1127.9" y2="1694" stroke="#000" stroke-width="4" stroke-linecap="butt"/>
<text x="1128" y="1714.9" font-size="22.6" font-weight="bold" text-anchor="middle" fill="#000">Adult</text>
<line x1="1350.1" y1="1679" x2="1350.1" y2="1694" stroke="#000" stroke-width="4" stroke-linecap="butt"/>
<text x="1350.2" y="1714.9" font-size="22.6" font-weight="bold" text-anchor="middle" fill="#000">All Pediatric</text>
<line x1="1572.6" y1="1679" x2="1572.6" y2="1694" stroke="#000" stroke-width="4" stroke-linecap="butt"/>
<text x="1572.7" y="1714.9" font-size="22.6" font-weight="bold" text-anchor="middle" fill="#000">Pediatric &gt;5</text>
<line x1="1794.2" y1="1679" x2="1794.2" y2="1694" stroke="#000" stroke-width="4" stroke-linecap="butt"/>
<text x="1794.3" y="1714.9" font-size="22.6" font-weight="bold" text-anchor="middle" fill="#000">Pediatric &lt;5</text>
<text x="947.5" y="938.8" font-size="54.5" font-weight="bold" text-anchor="start" fill="#000">d</text>
<text x="1461.7" y="942" font-size="27.4" font-weight="bold" text-anchor="middle" fill="#000">mOL</text>
<path d="M1132.4 998.4 L1132.4 982.3 L1783.9 982.3 L1783.9 998.4" fill="none" stroke="#000" stroke-width="3" stroke-linejoin="miter" stroke-linecap="butt"/>
<line x1="1050.3" y1="998.4" x2="1212.8" y2="998.4" stroke="#000" stroke-width="3" stroke-linecap="round"/>
<line x1="1700.3" y1="998.4" x2="1862" y2="998.4" stroke="#000" stroke-width="3" stroke-linecap="round"/>
<text x="1458" y="980.5" font-size="27" font-weight="bold" text-anchor="middle" fill="#000">*</text>
<path d="M1132.6 1045.5 L1132.6 1029.6 L1366.3 1029.6 L1366.3 1045.5" fill="none" stroke="#000" stroke-width="3" stroke-linejoin="miter" stroke-linecap="butt"/>
<line x1="1050.3" y1="1045.5" x2="1212.8" y2="1045.5" stroke="#000" stroke-width="3" stroke-linecap="round"/>
<line x1="1283.7" y1="1045.5" x2="1446.1" y2="1045.5" stroke="#000" stroke-width="3" stroke-linecap="round"/>
<text x="1249.8" y="1027" font-size="27" font-weight="bold" text-anchor="middle" fill="#000">*</text>
<path d="M1152.4 1111.8 L1152.4 1096.5 L1818.5 1096.5 L1818.5 1111.8" fill="none" stroke="#000" stroke-width="3" stroke-linejoin="miter" stroke-linecap="round"/>
<text x="1483.4" y="1094" font-size="27" font-weight="bold" text-anchor="middle" fill="#000">**</text>
<path d="M1152.4 1160.1 L1152.4 1144.8 L1366.7 1144.8 L1366.7 1160.1" fill="none" stroke="#000" stroke-width="3" stroke-linejoin="miter" stroke-linecap="round"/>
<text x="1259.7" y="1142" font-size="27" font-weight="bold" text-anchor="middle" fill="#000">*</text>
<line x1="1056.9" y1="1616.3" x2="1056.9" y2="1668.1" stroke="#000" stroke-width="1.5" stroke-linecap="butt"/>
<line x1="1048.6" y1="1616.3" x2="1065.2" y2="1616.3" stroke="#000" stroke-width="1.5" stroke-linecap="butt"/>
<line x1="1048.6" y1="1668.1" x2="1065.2" y2="1668.1" stroke="#000" stroke-width="1.5" stroke-linecap="butt"/>
<circle cx="1056.8" cy="1606.9" r="7.2" fill="#000"/>
<circle cx="1056.8" cy="1639.8" r="7.2" fill="#000"/>
<circle cx="1049.3" cy="1662.6" r="7.2" fill="#000"/>
<circle cx="1064.4" cy="1660" r="7.2" fill="#000"/>
<line x1="1056.9" y1="1650" x2="1056.9" y2="1668" stroke="#fff" stroke-width="1" stroke-linecap="butt"/>
<rect x="1089.1" y="1662.8" width="14.6" height="14.6" fill="#ff0a6c"/>
<rect x="1105.6" y="1659.6" width="14.6" height="14.6" fill="#ff0a6c"/>
<rect x="1097.3" y="1657.9" width="14.6" height="14.6" fill="#ff0a6c"/>
<line x1="1104.6" y1="1653" x2="1104.6" y2="1660" stroke="#ff0a6c" stroke-width="1.5" stroke-linecap="butt"/>
<line x1="1096" y1="1653" x2="1113.2" y2="1653" stroke="#ff0a6c" stroke-width="1.5" stroke-linecap="butt"/>
<line x1="1096" y1="1660" x2="1113.2" y2="1660" stroke="#ff0a6c" stroke-width="1.5" stroke-linecap="butt"/>
<rect x="1097.35" y="1641.3" width="14.6" height="14.6" fill="#ff0a6c"/>
<line x1="1152.2" y1="1253.7" x2="1152.2" y2="1640.3" stroke="#178282" stroke-width="1.5" stroke-linecap="butt"/>
<line x1="1143.9" y1="1640.3" x2="1160.5" y2="1640.3" stroke="#178282" stroke-width="1.5" stroke-linecap="butt"/>
<line x1="1152.2" y1="1211.5" x2="1152.2" y2="1227.3" stroke="#178282" stroke-width="1.5" stroke-linecap="butt"/>
<line x1="1143.9" y1="1211.5" x2="1160.5" y2="1211.5" stroke="#178282" stroke-width="1.5" stroke-linecap="butt"/>
<polygon points="1152 1183.4 1159.3 1197.4 1144.7 1197.4" fill="none" stroke="#178282" stroke-width="2.8" stroke-linejoin="round"/>
<polygon points="1152.2 1434.3 1159.5 1448.3 1144.9 1448.3" fill="#178282"/>
<polygon points="1152.2 1470.8 1159.5 1484.8 1144.9 1484.8" fill="#178282"/>
<polygon points="1152.2 1499.8 1159.5 1513.8 1144.9 1513.8" fill="#178282"/>
<line x1="1199.7" y1="1380.1" x2="1199.7" y2="1643.8" stroke="#3f0a80" stroke-width="1.5" stroke-linecap="butt"/>
<line x1="1191.4" y1="1380.1" x2="1208" y2="1380.1" stroke="#3f0a80" stroke-width="1.5" stroke-linecap="butt"/>
<line x1="1191.4" y1="1643.8" x2="1208" y2="1643.8" stroke="#3f0a80" stroke-width="1.5" stroke-linecap="butt"/>
<polygon points="1199.7 1307.3 1207.3 1314.9 1199.7 1322.5 1192.1 1314.9" fill="none" stroke="#3f0a80" stroke-width="2.8"/>
<polygon points="1191.6 1561.4 1199.2 1569 1191.6 1576.6 1184 1569" fill="#3f0a80"/>
<polygon points="1208.1 1565.2 1215.7 1572.8 1208.1 1580.4 1200.5 1572.8" fill="#3f0a80"/>
<polygon points="1199.7 1585.4 1207.3 1593 1199.7 1600.6 1192.1 1593" fill="#3f0a80"/>
<line x1="1279" y1="1641" x2="1279" y2="1665" stroke="#000" stroke-width="1.5" stroke-linecap="butt"/>
<line x1="1270.7" y1="1641" x2="1287.3" y2="1641" stroke="#000" stroke-width="1.5" stroke-linecap="butt"/>
<line x1="1270.7" y1="1665" x2="1287.3" y2="1665" stroke="#000" stroke-width="1.5" stroke-linecap="butt"/>
<circle cx="1278.9" cy="1628.2" r="7.2" fill="#000"/>
<circle cx="1270.5" cy="1653.5" r="7.2" fill="#000"/>
<circle cx="1282" cy="1650" r="7.2" fill="#000"/>
<circle cx="1269.5" cy="1665" r="7.2" fill="#000"/>
<circle cx="1281" cy="1667.5" r="7.2" fill="#000"/>
<circle cx="1271" cy="1671" r="7.2" fill="#000"/>
<circle cx="1277" cy="1660" r="7.2" fill="#000"/>
<rect x="1311" y="1665.3" width="14.4" height="14.4" fill="#ff0a6c"/>
<rect x="1327.8" y="1666.7" width="14.4" height="14.4" fill="#ff0a6c"/>
<rect x="1319.3" y="1661.3" width="14.4" height="14.4" fill="#ff0a6c"/>
<rect x="1318.1" y="1643.8" width="14.4" height="14.4" fill="#ff0a6c"/>
<rect x="1321" y="1644.4" width="14.4" height="14.4" fill="#ff0a6c"/>
<line x1="1374" y1="1472.9" x2="1374" y2="1605.9" stroke="#178282" stroke-width="1.5" stroke-linecap="butt"/>
<line x1="1365.7" y1="1472.9" x2="1382.3" y2="1472.9" stroke="#178282" stroke-width="1.5" stroke-linecap="butt"/>
<line x1="1365.7" y1="1605.9" x2="1382.3" y2="1605.9" stroke="#178282" stroke-width="1.5" stroke-linecap="butt"/>
<polygon points="1374 1482.1 1381.3 1496.1 1366.7 1496.1" fill="#178282"/>
<polygon points="1374 1517.5 1381.3 1531.5 1366.7 1531.5" fill="#178282"/>
<polygon points="1367.4 1563 1374.7 1577 1360.1 1577" fill="#178282"/>
<polygon points="1383.1 1559.3 1390.4 1573.3 1375.8 1573.3" fill="#178282"/>
<polygon points="1382.1 1578.2 1389.4 1592.2 1374.8 1592.2" fill="#178282"/>
<polygon points="1374 1614.4 1381.3 1628.4 1366.7 1628.4" fill="#178282"/>
<line x1="1422" y1="1586.7" x2="1422" y2="1632" stroke="#3f0a80" stroke-width="1.5" stroke-linecap="butt"/>
<line x1="1413.7" y1="1586.7" x2="1430.3" y2="1586.7" stroke="#3f0a80" stroke-width="1.5" stroke-linecap="butt"/>
<line x1="1413.7" y1="1632" x2="1430.3" y2="1632" stroke="#3f0a80" stroke-width="1.5" stroke-linecap="butt"/>
<polygon points="1421.9 1570.1 1429.2 1577.4 1421.9 1584.7 1414.6 1577.4" fill="#3f0a80"/>
<polygon points="1430 1581 1437.3 1588.3 1430 1595.6 1422.7 1588.3" fill="#3f0a80"/>
<polygon points="1421.9 1586.9 1429.2 1594.2 1421.9 1601.5 1414.6 1594.2" fill="#3f0a80"/>
<polygon points="1421.9 1610.2 1429.2 1617.5 1421.9 1624.8 1414.6 1617.5" fill="#3f0a80"/>
<polygon points="1413.9 1626 1421.2 1633.3 1413.9 1640.6 1406.6 1633.3" fill="#3f0a80"/>
<polygon points="1430 1620.5 1437.3 1627.8 1430 1635.1 1422.7 1627.8" fill="#3f0a80"/>
<polygon points="1421.9 1620.7 1429.2 1628 1421.9 1635.3 1414.6 1628" fill="#3f0a80"/>
<rect x="1486.9" y="1647.2" width="27.4" height="13.5" fill="#000"/>
<line x1="1500.8" y1="1630" x2="1500.8" y2="1661" stroke="#000" stroke-width="1.5" stroke-linecap="butt"/>
<line x1="1492.5" y1="1630" x2="1509.1" y2="1630" stroke="#000" stroke-width="1.5" stroke-linecap="butt"/>
<line x1="1492.5" y1="1661" x2="1509.1" y2="1661" stroke="#000" stroke-width="1.5" stroke-linecap="butt"/>
<circle cx="1500.8" cy="1628.4" r="7.2" fill="#000"/>
<line x1="1499.3" y1="1649" x2="1499.3" y2="1659" stroke="#fff" stroke-width="1" stroke-linecap="butt"/>
<line x1="1502.3" y1="1649" x2="1502.3" y2="1659" stroke="#fff" stroke-width="1" stroke-linecap="butt"/>
<rect x="1541" y="1644.5" width="15" height="15" fill="#ff0a6c"/>
<rect x="1532.4" y="1662" width="15" height="15" fill="#ff0a6c"/>
<rect x="1549" y="1661.5" width="15" height="15" fill="#ff0a6c"/>
<line x1="1548.5" y1="1652" x2="1548.5" y2="1672" stroke="#ff0a6c" stroke-width="1.5" stroke-linecap="butt"/>
<line x1="1540.2" y1="1652" x2="1556.8" y2="1652" stroke="#ff0a6c" stroke-width="1.5" stroke-linecap="butt"/>
<line x1="1540.2" y1="1672" x2="1556.8" y2="1672" stroke="#ff0a6c" stroke-width="1.5" stroke-linecap="butt"/>
<line x1="1596.2" y1="1421.2" x2="1596.2" y2="1563.9" stroke="#178282" stroke-width="1.5" stroke-linecap="butt"/>
<line x1="1587.9" y1="1421.2" x2="1604.5" y2="1421.2" stroke="#178282" stroke-width="1.5" stroke-linecap="butt"/>
<line x1="1587.9" y1="1563.9" x2="1604.5" y2="1563.9" stroke="#178282" stroke-width="1.5" stroke-linecap="butt"/>
<polygon points="1596.2 1416.3 1603.5 1430.3 1588.9 1430.3" fill="#178282"/>
<polygon points="1596.3 1482.1 1603.6 1496.1 1589 1496.1" fill="#178282"/>
<polygon points="1596.3 1560.5 1603.6 1574.5 1589 1574.5" fill="#178282"/>
<line x1="1643.9" y1="1573.3" x2="1643.9" y2="1631.5" stroke="#3f0a80" stroke-width="1.5" stroke-linecap="butt"/>
<line x1="1635.6" y1="1573.3" x2="1652.2" y2="1573.3" stroke="#3f0a80" stroke-width="1.5" stroke-linecap="butt"/>
<line x1="1635.6" y1="1631.5" x2="1652.2" y2="1631.5" stroke="#3f0a80" stroke-width="1.5" stroke-linecap="butt"/>
<polygon points="1643.9 1570.2 1651.5 1577.8 1643.9 1585.4 1636.3 1577.8" fill="#3f0a80"/>
<polygon points="1643.9 1586.7 1651.5 1594.3 1643.9 1601.9 1636.3 1594.3" fill="#3f0a80"/>
<polygon points="1643.9 1627.1 1651.5 1634.7 1643.9 1642.3 1636.3 1634.7" fill="#3f0a80"/>
<line x1="1722" y1="1653.5" x2="1722" y2="1668" stroke="#000" stroke-width="1.5" stroke-linecap="butt"/>
<line x1="1713.7" y1="1653.5" x2="1730.3" y2="1653.5" stroke="#000" stroke-width="1.5" stroke-linecap="butt"/>
<line x1="1713.7" y1="1668" x2="1730.3" y2="1668" stroke="#000" stroke-width="1.5" stroke-linecap="butt"/>
<circle cx="1731.6" cy="1650.2" r="7.2" fill="#000"/>
<circle cx="1721" cy="1664" r="7.2" fill="#000"/>
<circle cx="1730.5" cy="1666" r="7.2" fill="#000"/>
<circle cx="1715" cy="1668.5" r="7.2" fill="#000"/>
<rect x="1755" y="1666.6" width="14.4" height="14.4" fill="#ff0a6c"/>
<rect x="1771.8" y="1665.3" width="14.4" height="14.4" fill="#ff0a6c"/>
<rect x="1763.3" y="1660.7" width="14.4" height="14.4" fill="#ff0a6c"/>
<line x1="1770.5" y1="1656.1" x2="1770.5" y2="1662" stroke="#ff0a6c" stroke-width="1.5" stroke-linecap="butt"/>
<line x1="1762.1" y1="1656.1" x2="1778.9" y2="1656.1" stroke="#ff0a6c" stroke-width="1.5" stroke-linecap="butt"/>
<line x1="1762.1" y1="1662" x2="1778.9" y2="1662" stroke="#ff0a6c" stroke-width="1.5" stroke-linecap="butt"/>
<rect x="1763.3" y="1643.7" width="14.4" height="14.4" fill="#ff0a6c"/>
<line x1="1817.9" y1="1534.2" x2="1817.9" y2="1614.8" stroke="#178282" stroke-width="1.5" stroke-linecap="butt"/>
<line x1="1809.6" y1="1534.2" x2="1826.2" y2="1534.2" stroke="#178282" stroke-width="1.5" stroke-linecap="butt"/>
<line x1="1809.6" y1="1614.8" x2="1826.2" y2="1614.8" stroke="#178282" stroke-width="1.5" stroke-linecap="butt"/>
<polygon points="1817.9 1516.2 1825.2 1530.2 1810.6 1530.2" fill="#178282"/>
<polygon points="1808.8 1563.3 1816.1 1577.3 1801.5 1577.3" fill="#178282"/>
<polygon points="1826.6 1578.4 1833.9 1592.4 1819.3 1592.4" fill="#178282"/>
<polygon points="1817.9 1614.2 1825.2 1628.2 1810.6 1628.2" fill="#178282"/>
<line x1="1865.5" y1="1595.6" x2="1865.5" y2="1631.9" stroke="#3f0a80" stroke-width="1.5" stroke-linecap="butt"/>
<line x1="1857.2" y1="1595.6" x2="1873.8" y2="1595.6" stroke="#3f0a80" stroke-width="1.5" stroke-linecap="butt"/>
<line x1="1857.2" y1="1631.9" x2="1873.8" y2="1631.9" stroke="#3f0a80" stroke-width="1.5" stroke-linecap="butt"/>
<polygon points="1865.5 1580.7 1873.1 1588.3 1865.5 1595.9 1857.9 1588.3" fill="#3f0a80"/>
<polygon points="1865.5 1605.1 1873.1 1612.7 1865.5 1620.3 1857.9 1612.7" fill="#3f0a80"/>
<polygon points="1857.2 1620.8 1864.8 1628.4 1857.2 1636 1849.6 1628.4" fill="#3f0a80"/>
<polygon points="1873.7 1619.9 1881.3 1627.5 1873.7 1635.1 1866.1 1627.5" fill="#3f0a80"/>
<circle cx="1490.3" cy="1246.7" r="7.3" fill="#000"/>
<text x="1524.1" y="1254.6" font-size="23.8" font-weight="normal" text-anchor="start" fill="#000">BCL2/BAX</text>
<rect x="1483" y="1280.3" width="14.8" height="14.8" fill="#ff0a6c"/>
<text x="1524.1" y="1294.5" font-size="23.8" font-weight="normal" text-anchor="start" fill="#000">BCL2L2/BAX</text>
<polygon points="1713.8 1239.6 1721.1 1253.6 1706.5 1253.6" fill="#178282"/>
<text x="1747.7" y="1253.3" font-size="23.8" font-weight="normal" text-anchor="start" fill="#000">BCL2/BAK</text>
<polygon points="1713.8 1276.7 1721.1 1284 1713.8 1291.3 1706.5 1284" fill="#3f0a80"/>
<text x="1747.7" y="1292.4" font-size="23.8" font-weight="normal" text-anchor="start" fill="#000">BCL2L2/BAK</text>
</g>
</svg>
</body>
</html>
